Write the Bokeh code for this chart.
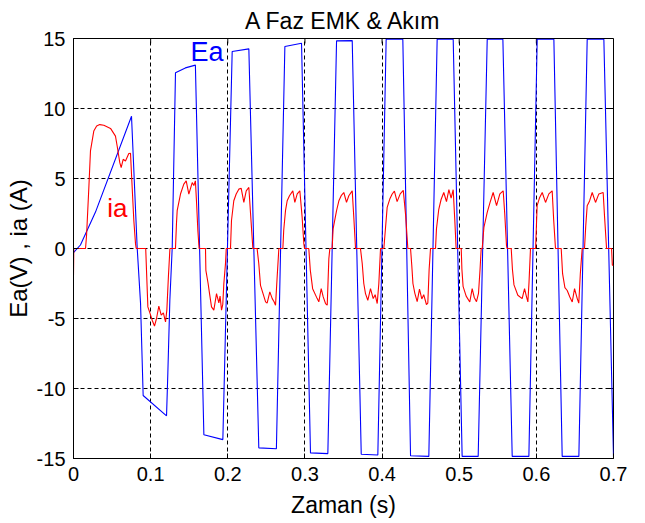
from bokeh.plotting import figure
from bokeh.models import FixedTicker, Label
from bokeh.embed import file_html
from bokeh.resources import INLINE

title_text = "A Faz EMK & Akım"
x_label = "Zaman (s)"
y_label = "Ea(V) , ia (A)"

x_ticks = [0, 0.1, 0.2, 0.3, 0.4, 0.5, 0.6, 0.7]
x_tick_labels = ["0", "0.1", "0.2", "0.3", "0.4", "0.5", "0.6", "0.7"]
y_ticks = [-15, -10, -5, 0, 5, 10, 15]
y_tick_labels = ["-15", "-10", "-5", "0", "5", "10", "15"]

# Ea (V) - phase A back EMF
ea_t = [0.000, 0.009, 0.0285, 0.0752, 0.0825, 0.0869, 0.0903, 0.1206, 0.1223, 0.1249,
        0.1280, 0.1322, 0.1450, 0.1580, 0.1690, 0.1936, 0.2057, 0.2273, 0.2402, 0.2630,
        0.2740, 0.2956, 0.3072, 0.3297, 0.3410, 0.3613, 0.3730, 0.3945, 0.4053, 0.4269,
        0.4369, 0.4606, 0.4714, 0.4922, 0.5038, 0.5246, 0.5363, 0.5566, 0.5687, 0.5903,
        0.6011, 0.6227, 0.6335, 0.6551, 0.6659, 0.6875, 0.7000]
ea_v = [-0.3, 0.25, 2.6, 9.45, 0.1, -3.9, -10.5, -11.95, -8.9, -3.7,
        0.1, 12.55, 12.9, 13.1, -13.3, -13.65, 14.07, 14.26, -14.24, -14.3,
        14.43, 14.66, -14.6, -14.65, 14.83, 14.85, -14.7, -14.75, 14.95, 14.95,
        -14.8, -14.85, 14.95, 14.95, -14.85, -14.85, 14.95, 14.95, -14.85, -14.85,
        14.95, 14.95, -14.85, -14.85, 14.95, 14.95, -14.9]

# ia (A) - phase A current
ia_t = [0.0000, 0.0004, 0.0156, 0.0170, 0.0199, 0.0220, 0.0263, 0.0300, 0.0340, 0.0393,
        0.0480, 0.0544, 0.0566, 0.0600, 0.0618, 0.0644, 0.0674, 0.0717, 0.0739, 0.0752,
        0.0782, 0.0804, 0.0813,
        0.0936, 0.0950, 0.0964, 0.0990, 0.1020, 0.1050, 0.1076, 0.1106, 0.1137, 0.1165,
        0.1193, 0.1210, 0.1230, 0.1250,
        0.1322, 0.1335, 0.1344, 0.1387, 0.1430, 0.1461, 0.1495, 0.1539, 0.1560, 0.1580,
        0.1595, 0.1612, 0.1628,
        0.1711, 0.1716, 0.1745, 0.1763, 0.1789, 0.1819, 0.1854, 0.1884, 0.1900, 0.1919,
        0.1935, 0.1949, 0.1970, 0.1980,
        0.2035, 0.2048, 0.2078, 0.2109, 0.2143, 0.2174, 0.2208, 0.2239, 0.2273, 0.2295, 0.2325,
        0.2380, 0.2402, 0.2424, 0.2450, 0.2490, 0.2510, 0.2545, 0.2576, 0.2600, 0.2619,
        0.2640, 0.2662,
        0.2714, 0.2725, 0.2748, 0.2770, 0.2800, 0.2843, 0.2869, 0.2900, 0.2934, 0.2964,
        0.2986, 0.2995,
        0.3050, 0.3070, 0.3100, 0.3159, 0.3180, 0.3211, 0.3237, 0.3267, 0.3289, 0.3310, 0.3323,
        0.3353, 0.3365, 0.3410, 0.3440, 0.3470, 0.3504, 0.3539, 0.3569, 0.3613, 0.3634, 0.3656,
        0.3720, 0.3743, 0.3763, 0.3785, 0.3815, 0.3850, 0.3885, 0.3910, 0.3937, 0.3958, 0.3980,
        0.4023, 0.4045, 0.4066, 0.4100, 0.4131, 0.4160, 0.4195, 0.4235, 0.4275, 0.4305, 0.4334,
        0.4369, 0.4385, 0.4400, 0.4425, 0.4455, 0.4485, 0.4515, 0.4540, 0.4575, 0.4593,
        0.4610, 0.4628,
        0.4693, 0.4705, 0.4735, 0.4765, 0.4800, 0.4835, 0.4866, 0.4895, 0.4922, 0.4943, 0.4960,
        0.5026, 0.5035, 0.5050, 0.5090, 0.5137, 0.5168, 0.5195, 0.5224, 0.5250, 0.5270, 0.5285,
        0.5298, 0.5320, 0.5363, 0.5400, 0.5440, 0.5484, 0.5527, 0.5570, 0.5590, 0.5613, 0.5620,
        0.5674, 0.5690, 0.5710, 0.5760, 0.5816, 0.5847, 0.5870, 0.5890, 0.5905, 0.5924,
        0.5990, 0.6000, 0.6010, 0.6040, 0.6076, 0.6119, 0.6162, 0.6205, 0.6225, 0.6248,
        0.6322, 0.6340, 0.6370, 0.6400, 0.6434, 0.6465, 0.6495, 0.6530, 0.6550, 0.6570, 0.6594,
        0.6624, 0.6640, 0.6659, 0.6690, 0.6724, 0.6767, 0.6810, 0.6866, 0.6885, 0.6910,
        0.6975, 0.6985, 0.7000]
ia_v = [-1.9, 0.0, 0.0, 1.0, 4.36, 6.97, 8.39, 8.75, 8.85, 8.80,
        8.58, 8.03, 7.32, 6.13, 5.78, 6.37, 6.25, 6.78, 6.80, 5.30,
        2.00, 0.33, 0.0,
        0.0, -2.10, -4.17, -4.60, -5.12, -5.54, -5.00, -4.12, -4.76, -4.60,
        -5.24, -4.40, -2.04, 0.0,
        0.0, 1.80, 2.70, 3.89, 4.60, 4.83, 3.89, 4.71, 4.50, 4.83,
        3.30, 1.28, 0.0,
        0.0, -1.56, -2.50, -3.20, -4.17, -4.40, -3.22, -3.89, -3.40, -4.40,
        -4.00, -2.50, -1.10, 0.0,
        0.0, 2.00, 3.41, 3.89, 4.24, 4.30, 3.29, 4.12, 4.36, 2.50, 0.0,
        0.0, -1.09, -2.63, -3.10, -3.81, -3.90, -3.10, -3.58, -3.80, -4.05,
        -2.04, 0.0,
        0.0, 1.30, 2.70, 3.41, 3.77, 4.12, 3.29, 3.90, 4.12, 2.22,
        0.33, 0.0,
        0.0, -1.56, -2.87, -3.58, -3.81, -2.87, -3.46, -3.93, -4.05, -0.73, 0.0,
        0.0, 1.40, 2.70, 3.41, 3.77, 4.00, 3.29, 3.77, 4.12, 2.20, 0.0,
        0.0, -1.09, -2.50, -3.22, -3.70, -2.87, -3.58, -3.30, -3.93, -2.50, 0.0,
        0.0, 1.50, 2.94, 3.53, 3.89, 4.10, 3.35, 3.90, 4.15, 2.40, 0.0,
        0.0, -1.20, -2.50, -3.20, -3.80, -2.90, -3.60, -3.30, -4.00, -3.90,
        -1.50, 0.0,
        0.0, 1.40, 2.80, 3.50, 4.00, 3.35, 4.20, 3.60, 4.20, 2.00, 0.0,
        0.0, -1.50, -2.70, -3.40, -3.82, -2.87, -3.50, -3.80, -3.20, -1.50, 0.0,
        0.0, 1.50, 2.58, 3.30, 4.00, 3.06, 3.90, 4.12, 2.50, 0.20, 0.0,
        0.0, -1.50, -2.60, -3.34, -3.58, -2.87, -3.40, -3.82, -2.40, 0.0,
        0.0, 1.50, 3.06, 3.60, 4.00, 3.29, 3.90, 4.12, 2.00, 0.0,
        0.0, -1.80, -2.80, -3.00, -3.46, -3.82, -2.87, -3.58, -3.90, -1.80, 0.0,
        0.0, 1.60, 3.06, 3.40, 4.00, 3.29, 3.90, 4.00, 2.20, 0.0,
        0.0, -1.20, -1.20]

ea_label_pos = (0.1517, 14.05)
ia_label_pos = (0.0437, 2.92)

FONT = "Liberation Sans"
X0, X1, Y0, Y1 = 0, 0.7, -15, 15

p = figure(width=640, height=520, x_range=(X0, X1), y_range=(Y0, Y1),
           output_backend="svg", toolbar_location=None,
           min_border_left=73, min_border_right=27, min_border_top=36, min_border_bottom=61,
           background_fill_color="white", border_fill_color="white")

p.title.text = title_text
p.title.align = "center"
p.title.text_font = FONT
p.title.text_font_size = "23px"
p.title.text_font_style = "normal"
p.title.text_color = "black"

p.outline_line_color = "black"
p.outline_line_width = 1
p.outline_line_alpha = 1

p.xgrid.ticker = FixedTicker(ticks=x_ticks)
p.ygrid.ticker = FixedTicker(ticks=y_ticks)
for g in (p.xgrid[0], p.ygrid[0]):
    g.grid_line_color = "black"
    g.grid_line_dash = "4 3"
    g.grid_line_width = 1
    g.grid_line_alpha = 1

# inward tick marks on the top and right edges of the box (MATLAB style)
tick_dx = (X1 - X0) * 5 / 540.0
tick_dy = (Y1 - Y0) * 5 / 422.0
p.segment(x0=x_ticks, y0=[Y1] * len(x_ticks), x1=x_ticks, y1=[Y1 - tick_dy] * len(x_ticks),
          line_color="black", line_width=1)
p.segment(x0=[X1] * len(y_ticks), y0=y_ticks, x1=[X1 - tick_dx] * len(y_ticks), y1=y_ticks,
          line_color="black", line_width=1)

p.line(ea_t, ea_v, line_color="#0000FF", line_width=1.1)
p.line(ia_t, ia_v, line_color="#FF0000", line_width=1.1)

p.add_layout(Label(x=ea_label_pos[0], y=ea_label_pos[1], text="Ea", text_color="#0000FF",
                   text_font=FONT, text_font_size="27px", text_baseline="alphabetic",
                   text_align="left"))
p.add_layout(Label(x=ia_label_pos[0], y=ia_label_pos[1], text="ia", text_color="#FF0000",
                   text_font=FONT, text_font_size="26px", text_baseline="alphabetic",
                   text_align="left"))

for ax in (p.xaxis[0], p.yaxis[0]):
    ax.axis_line_color = "black"
    ax.major_tick_in = 5
    ax.major_tick_out = 0
    ax.minor_tick_line_color = None
    ax.major_tick_line_color = "black"
    ax.major_label_text_font = FONT
    ax.major_label_text_font_size = "20px"
    ax.major_label_text_color = "black"
    ax.axis_label_text_font = FONT
    ax.axis_label_text_font_size = "23px"
    ax.axis_label_text_font_style = "normal"
    ax.axis_label_text_color = "black"

p.xaxis.ticker = FixedTicker(ticks=x_ticks)
p.xaxis.major_label_overrides = dict(zip(x_ticks, x_tick_labels))
p.xaxis.axis_label = x_label
p.xaxis.major_label_standoff = 8
p.xaxis.axis_label_standoff = 8

p.yaxis.ticker = FixedTicker(ticks=y_ticks)
p.yaxis.major_label_overrides = dict(zip(y_ticks, y_tick_labels))
p.yaxis.axis_label = y_label
p.yaxis.axis_label_text_font_size = "24px"
p.yaxis.major_label_standoff = 8
p.yaxis.axis_label_standoff = 2

open("out.html", "w").write(file_html(p, INLINE))
